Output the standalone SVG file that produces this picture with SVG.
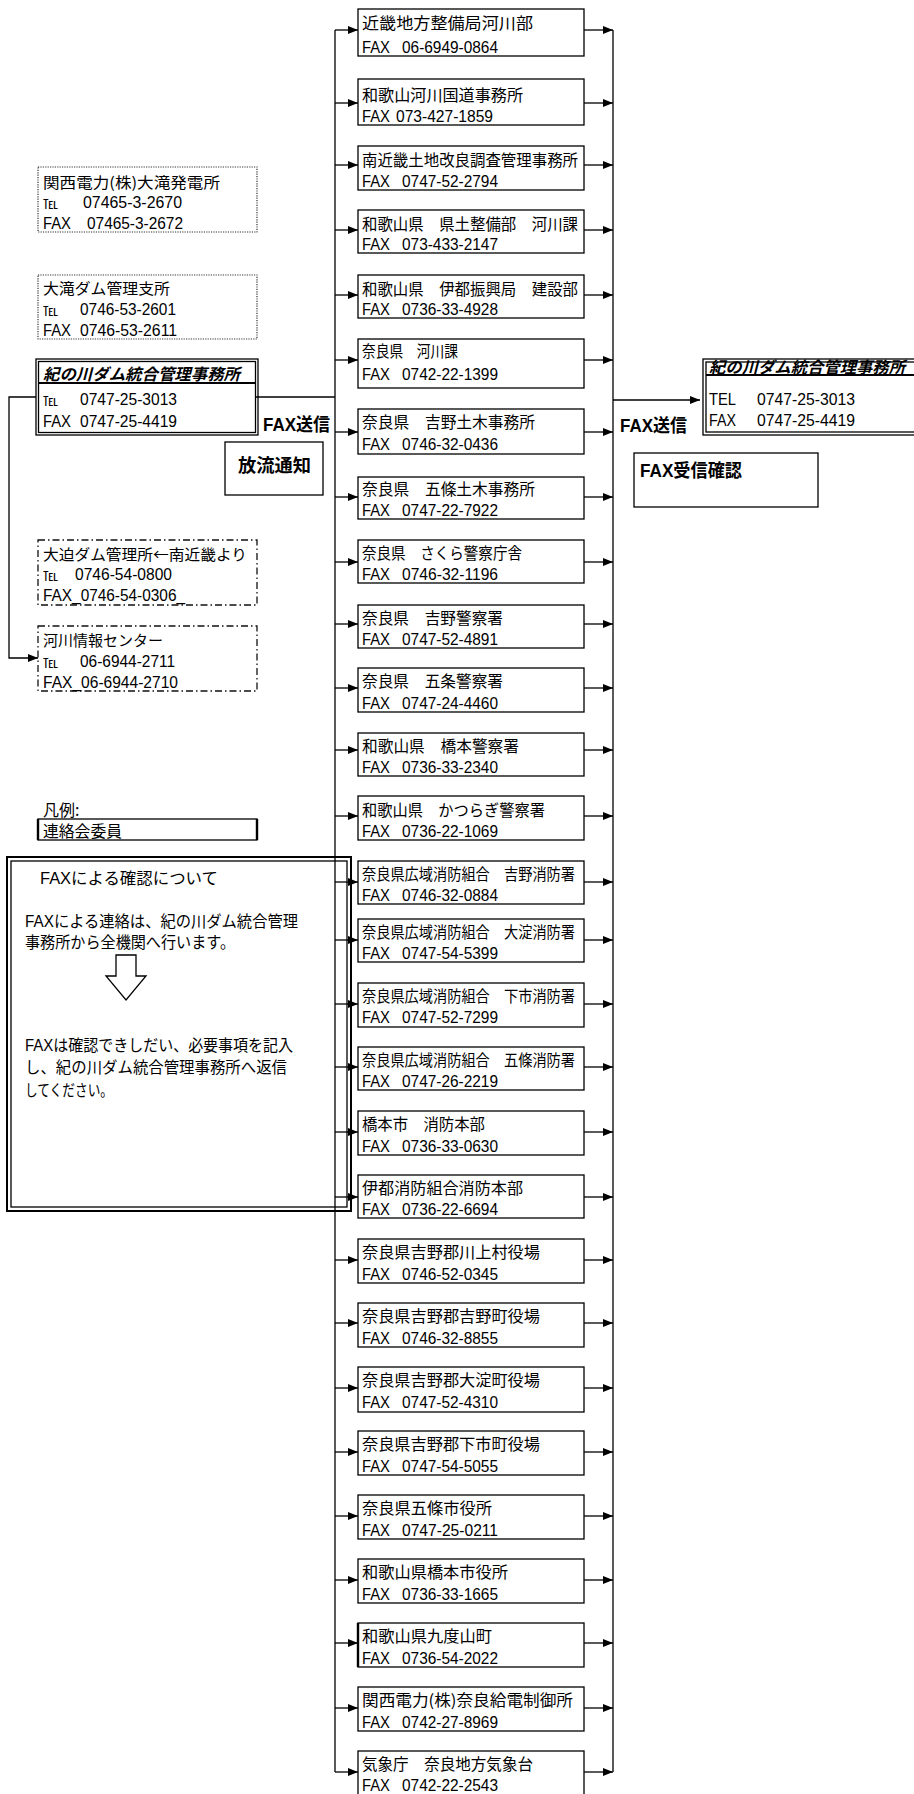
<svg xmlns="http://www.w3.org/2000/svg" width="914" height="1794" viewBox="0 0 914 1794">
<style>
.bx{fill:none;stroke:#000;stroke-width:1.3}
.dot{fill:none;stroke:#333;stroke-width:1.2;stroke-dasharray:1.2 1.2}
.dd{fill:none;stroke:#111;stroke-width:1.3;stroke-dasharray:7 3 1.5 3}
.ln{fill:none;stroke:#000;stroke-width:1.3}
text{font-family:"Liberation Sans","Noto Sans CJK JP",sans-serif;font-size:16px;fill:#000}
.j{font-family:"Noto Sans CJK JP",sans-serif}
.tel{font-family:"Noto Sans CJK JP",sans-serif;font-size:13px}
.nm{font-family:"Noto Sans CJK JP",sans-serif;font-size:15px}
.b{font-weight:bold;font-size:18px}
.h{font-family:"Noto Sans CJK JP",sans-serif;font-style:italic;font-weight:bold}
</style>
<defs>
<marker id="ah" viewBox="0 0 10 8" refX="10" refY="4" markerWidth="10" markerHeight="8" orient="auto" markerUnits="userSpaceOnUse"><path d="M0,0 L10,4 L0,8 z" fill="#000"/></marker>
</defs>
<rect width="914" height="1794" fill="#fff"/>

<g id="connectors">
<path class="ln" d="M335,30 V1772"/>
<path class="ln" d="M613,30 V1772"/>
<path class="ln" d="M256,397 H335"/>
<path class="ln" d="M36,397 H9 V658 H38" marker-end="url(#ah)"/>
<path class="ln" d="M613,400 H700" marker-end="url(#ah)"/>
<g marker-end="url(#ah)" class="ln">
<path d="M335,30 H358"/><path d="M335,103 H358"/><path d="M335,165 H358"/><path d="M335,230 H358"/>
<path d="M335,295 H358"/><path d="M335,360 H358"/><path d="M335,432 H358"/><path d="M335,497 H358"/>
<path d="M335,562 H358"/><path d="M335,624 H358"/><path d="M335,688 H358"/><path d="M335,750 H358"/>
<path d="M335,816 H358"/><path d="M335,882 H358"/><path d="M335,940 H358"/><path d="M335,1004 H358"/>
<path d="M335,1067 H358"/><path d="M335,1132 H358"/><path d="M335,1197 H358"/><path d="M335,1260 H358"/>
<path d="M335,1323 H358"/><path d="M335,1388 H358"/><path d="M335,1452 H358"/><path d="M335,1516 H358"/>
<path d="M335,1580 H358"/><path d="M335,1643 H358"/><path d="M335,1708 H358"/><path d="M335,1772 H358"/>
<path d="M584,30 H613"/><path d="M584,103 H613"/><path d="M584,165 H613"/><path d="M584,230 H613"/>
<path d="M584,295 H613"/><path d="M584,360 H613"/><path d="M584,432 H613"/><path d="M584,497 H613"/>
<path d="M584,562 H613"/><path d="M584,624 H613"/><path d="M584,688 H613"/><path d="M584,750 H613"/>
<path d="M584,816 H613"/><path d="M584,882 H613"/><path d="M584,940 H613"/><path d="M584,1004 H613"/>
<path d="M584,1067 H613"/><path d="M584,1132 H613"/><path d="M584,1197 H613"/><path d="M584,1260 H613"/>
<path d="M584,1323 H613"/><path d="M584,1388 H613"/><path d="M584,1452 H613"/><path d="M584,1516 H613"/>
<path d="M584,1580 H613"/><path d="M584,1643 H613"/><path d="M584,1708 H613"/><path d="M584,1772 H613"/>
</g>
</g>

<!-- left side -->
<g id="oodaki-hatsudensho">
<rect class="dot" x="38" y="167" width="219" height="65"/>
<text class="nm" x="43" y="188" textLength="177" lengthAdjust="spacingAndGlyphs">関西電力(株)大滝発電所</text>
<text class="tel" x="43" y="208" textLength="15" lengthAdjust="spacingAndGlyphs">℡</text>
<text x="83" y="208" textLength="99" lengthAdjust="spacingAndGlyphs">07465-3-2670</text>
<text x="43" y="229" textLength="28" lengthAdjust="spacingAndGlyphs">FAX</text>
<text x="87" y="229" textLength="96" lengthAdjust="spacingAndGlyphs">07465-3-2672</text>
</g>
<g id="oodaki-dam">
<rect class="dot" x="38" y="275" width="219" height="64"/>
<text class="nm" x="43" y="294" textLength="127" lengthAdjust="spacingAndGlyphs">大滝ダム管理支所</text>
<text class="tel" x="43" y="315" textLength="15" lengthAdjust="spacingAndGlyphs">℡</text>
<text x="80" y="315" textLength="96" lengthAdjust="spacingAndGlyphs">0746-53-2601</text>
<text x="43" y="336" textLength="28" lengthAdjust="spacingAndGlyphs">FAX</text>
<text x="80" y="336" textLength="97" lengthAdjust="spacingAndGlyphs">0746-53-2611</text>
</g>
<g id="kinokawa-left">
<rect class="bx" x="36" y="359" width="222" height="76"/>
<rect class="bx" x="38.5" y="361.5" width="217" height="71"/>
<path d="M38,383 H256" stroke="#000" stroke-width="2.2"/>
<text class="h" x="43" y="380" textLength="197" lengthAdjust="spacingAndGlyphs">紀の川ダム統合管理事務所</text>
<text class="tel" x="43" y="405" textLength="15" lengthAdjust="spacingAndGlyphs">℡</text>
<text x="80" y="405" textLength="97" lengthAdjust="spacingAndGlyphs">0747-25-3013</text>
<text x="43" y="427" textLength="28" lengthAdjust="spacingAndGlyphs">FAX</text>
<text x="80" y="427" textLength="97" lengthAdjust="spacingAndGlyphs">0747-25-4419</text>
</g>
<g id="label-fax-send-left">
<text class="b" x="263" y="431" textLength="67" lengthAdjust="spacingAndGlyphs">FAX送信</text>
</g>
<g id="houryuu-tsuuchi">
<rect class="bx" x="225" y="442" width="98" height="53"/>
<text class="b" x="238" y="472" textLength="73" lengthAdjust="spacingAndGlyphs">放流通知</text>
</g>
<g id="oosako-dam">
<rect class="dd" x="38" y="540" width="219" height="65"/>
<text class="nm" x="43" y="560" textLength="204" lengthAdjust="spacingAndGlyphs">大迫ダム管理所←南近畿より</text>
<text class="tel" x="43" y="580" textLength="15" lengthAdjust="spacingAndGlyphs">℡</text>
<text x="75" y="580" textLength="97" lengthAdjust="spacingAndGlyphs">0746-54-0800</text>
<text x="43" y="601" textLength="142" lengthAdjust="spacingAndGlyphs">FAX_0746-54-0306_</text>
</g>
<g id="kasen-jouhou">
<rect class="dd" x="38" y="626" width="219" height="65"/>
<text class="nm" x="43" y="646" textLength="120" lengthAdjust="spacingAndGlyphs">河川情報センター</text>
<text class="tel" x="43" y="667" textLength="15" lengthAdjust="spacingAndGlyphs">℡</text>
<text x="80" y="667" textLength="95" lengthAdjust="spacingAndGlyphs">06-6944-2711</text>
<text x="43" y="688" textLength="135" lengthAdjust="spacingAndGlyphs">FAX_06-6944-2710</text>
</g>
<g id="legend">
<text class="j" x="43" y="816">凡例:</text>
<rect class="bx" x="38" y="819" width="219" height="21"/>
<path d="M38,819 V840 M257,819 V840" stroke="#000" stroke-width="2.4"/>
<text class="j" x="43" y="837" textLength="79" lengthAdjust="spacingAndGlyphs">連絡会委員</text>
</g>
<g id="fax-note">
<rect x="7" y="857" width="344" height="354" fill="none" stroke="#000" stroke-width="2"/>
<rect class="bx" x="11" y="861" width="336" height="346"/>
<text x="40" y="884" font-size="17" textLength="178" lengthAdjust="spacingAndGlyphs">FAXによる確認について</text>
<text x="25" y="927" textLength="273" lengthAdjust="spacingAndGlyphs">FAXによる連絡は、紀の川ダム統合管理</text>
<text x="25" y="948" textLength="210" lengthAdjust="spacingAndGlyphs">事務所から全機関へ行います。</text>
<polygon points="116,955 136,955 136,976 146,976 126,1000 106,976 116,976" fill="#fff" stroke="#000" stroke-width="1.3"/>
<text x="25" y="1051" textLength="268" lengthAdjust="spacingAndGlyphs">FAXは確認できしだい、必要事項を記入</text>
<text x="25" y="1073" textLength="262" lengthAdjust="spacingAndGlyphs">し、紀の川ダム統合管理事務所へ返信</text>
<text x="25" y="1096" textLength="88" lengthAdjust="spacingAndGlyphs">してください。</text>
</g>

<!-- right side -->
<g id="label-fax-send-right">
<text class="b" x="620" y="432" textLength="67" lengthAdjust="spacingAndGlyphs">FAX送信</text>
</g>
<g id="kinokawa-right">
<rect class="bx" x="703" y="359" width="230" height="76"/>
<rect class="bx" x="706" y="362" width="230" height="70"/>
<path d="M706,375 H914" stroke="#000" stroke-width="2.2"/>
<text class="h" x="709" y="373" font-size="14" textLength="196" lengthAdjust="spacingAndGlyphs">紀の川ダム統合管理事務所</text>
<text x="709" y="405" textLength="27" lengthAdjust="spacingAndGlyphs">TEL</text>
<text x="757" y="405" textLength="98" lengthAdjust="spacingAndGlyphs">0747-25-3013</text>
<text x="709" y="426" textLength="27" lengthAdjust="spacingAndGlyphs">FAX</text>
<text x="757" y="426" textLength="98" lengthAdjust="spacingAndGlyphs">0747-25-4419</text>
</g>
<g id="fax-confirm">
<rect class="bx" x="634" y="453" width="184" height="54"/>
<text class="b" x="640" y="477" textLength="102" lengthAdjust="spacingAndGlyphs">FAX受信確認</text>
</g>

<!-- recipient boxes -->
<g id="r01"><rect class="bx" x="358" y="9" width="226" height="47"/>
<text class="j" x="362" y="29" font-size="17" textLength="171" lengthAdjust="spacingAndGlyphs">近畿地方整備局河川部</text>
<text x="362" y="53" textLength="28" lengthAdjust="spacingAndGlyphs">FAX</text><text x="402" y="53" textLength="96" lengthAdjust="spacingAndGlyphs">06-6949-0864</text></g>
<g id="r02"><rect class="bx" x="358" y="79" width="226" height="46"/>
<text class="j" x="362" y="101" textLength="161" lengthAdjust="spacingAndGlyphs">和歌山河川国道事務所</text>
<text x="362" y="122" textLength="28" lengthAdjust="spacingAndGlyphs">FAX</text><text x="396" y="122" textLength="97" lengthAdjust="spacingAndGlyphs">073-427-1859</text></g>
<g id="r03"><rect class="bx" x="358" y="146" width="226" height="44"/>
<text class="j" x="362" y="166" textLength="216" lengthAdjust="spacingAndGlyphs">南近畿土地改良調査管理事務所</text>
<text x="362" y="187" textLength="28" lengthAdjust="spacingAndGlyphs">FAX</text><text x="402" y="187" textLength="96" lengthAdjust="spacingAndGlyphs">0747-52-2794</text></g>
<g id="r04"><rect class="bx" x="358" y="210" width="226" height="43"/>
<text class="j" x="362" y="230" textLength="216" lengthAdjust="spacingAndGlyphs">和歌山県　県土整備部　河川課</text>
<text x="362" y="250" textLength="28" lengthAdjust="spacingAndGlyphs">FAX</text><text x="402" y="250" textLength="96" lengthAdjust="spacingAndGlyphs">073-433-2147</text></g>
<g id="r05"><rect class="bx" x="358" y="275" width="226" height="43"/>
<text class="j" x="362" y="295" textLength="216" lengthAdjust="spacingAndGlyphs">和歌山県　伊都振興局　建設部</text>
<text x="362" y="315" textLength="28" lengthAdjust="spacingAndGlyphs">FAX</text><text x="402" y="315" textLength="96" lengthAdjust="spacingAndGlyphs">0736-33-4928</text></g>
<g id="r06"><rect class="bx" x="358" y="339" width="226" height="49"/>
<text class="j" x="362" y="357" font-size="14" textLength="96" lengthAdjust="spacingAndGlyphs">奈良県　河川課</text>
<text x="362" y="380" textLength="28" lengthAdjust="spacingAndGlyphs">FAX</text><text x="402" y="380" textLength="96" lengthAdjust="spacingAndGlyphs">0742-22-1399</text></g>
<g id="r07"><rect class="bx" x="358" y="409" width="226" height="45"/>
<text class="j" x="362" y="428" textLength="173" lengthAdjust="spacingAndGlyphs">奈良県　吉野土木事務所</text>
<text x="362" y="450" textLength="28" lengthAdjust="spacingAndGlyphs">FAX</text><text x="402" y="450" textLength="96" lengthAdjust="spacingAndGlyphs">0746-32-0436</text></g>
<g id="r08"><rect class="bx" x="358" y="477" width="226" height="42"/>
<text class="j" x="362" y="495" textLength="173" lengthAdjust="spacingAndGlyphs">奈良県　五條土木事務所</text>
<text x="362" y="516" textLength="28" lengthAdjust="spacingAndGlyphs">FAX</text><text x="402" y="516" textLength="96" lengthAdjust="spacingAndGlyphs">0747-22-7922</text></g>
<g id="r09"><rect class="bx" x="358" y="540" width="226" height="43"/>
<text class="j" x="362" y="559" textLength="160" lengthAdjust="spacingAndGlyphs">奈良県　さくら警察庁舎</text>
<text x="362" y="580" textLength="28" lengthAdjust="spacingAndGlyphs">FAX</text><text x="402" y="580" textLength="96" lengthAdjust="spacingAndGlyphs">0746-32-1196</text></g>
<g id="r10"><rect class="bx" x="358" y="605" width="226" height="43"/>
<text class="j" x="362" y="624" textLength="141" lengthAdjust="spacingAndGlyphs">奈良県　吉野警察署</text>
<text x="362" y="645" textLength="28" lengthAdjust="spacingAndGlyphs">FAX</text><text x="402" y="645" textLength="96" lengthAdjust="spacingAndGlyphs">0747-52-4891</text></g>
<g id="r11"><rect class="bx" x="358" y="668" width="226" height="44"/>
<text class="j" x="362" y="687" textLength="141" lengthAdjust="spacingAndGlyphs">奈良県　五条警察署</text>
<text x="362" y="709" textLength="28" lengthAdjust="spacingAndGlyphs">FAX</text><text x="402" y="709" textLength="96" lengthAdjust="spacingAndGlyphs">0747-24-4460</text></g>
<g id="r12"><rect class="bx" x="358" y="733" width="226" height="43"/>
<text class="j" x="362" y="752" textLength="157" lengthAdjust="spacingAndGlyphs">和歌山県　橋本警察署</text>
<text x="362" y="773" textLength="28" lengthAdjust="spacingAndGlyphs">FAX</text><text x="402" y="773" textLength="96" lengthAdjust="spacingAndGlyphs">0736-33-2340</text></g>
<g id="r13"><rect class="bx" x="358" y="796" width="226" height="44"/>
<text class="j" x="362" y="816" textLength="183" lengthAdjust="spacingAndGlyphs">和歌山県　かつらぎ警察署</text>
<text x="362" y="837" textLength="28" lengthAdjust="spacingAndGlyphs">FAX</text><text x="402" y="837" textLength="96" lengthAdjust="spacingAndGlyphs">0736-22-1069</text></g>
<g id="r14"><rect class="bx" x="358" y="861" width="226" height="43"/>
<text class="j" x="362" y="880" font-size="15" textLength="213" lengthAdjust="spacingAndGlyphs">奈良県広域消防組合　吉野消防署</text>
<text x="362" y="901" textLength="28" lengthAdjust="spacingAndGlyphs">FAX</text><text x="402" y="901" textLength="96" lengthAdjust="spacingAndGlyphs">0746-32-0884</text></g>
<g id="r15"><rect class="bx" x="358" y="919" width="226" height="43"/>
<text class="j" x="362" y="938" font-size="15" textLength="213" lengthAdjust="spacingAndGlyphs">奈良県広域消防組合　大淀消防署</text>
<text x="362" y="959" textLength="28" lengthAdjust="spacingAndGlyphs">FAX</text><text x="402" y="959" textLength="96" lengthAdjust="spacingAndGlyphs">0747-54-5399</text></g>
<g id="r16"><rect class="bx" x="358" y="983" width="226" height="44"/>
<text class="j" x="362" y="1002" font-size="15" textLength="213" lengthAdjust="spacingAndGlyphs">奈良県広域消防組合　下市消防署</text>
<text x="362" y="1023" textLength="28" lengthAdjust="spacingAndGlyphs">FAX</text><text x="402" y="1023" textLength="96" lengthAdjust="spacingAndGlyphs">0747-52-7299</text></g>
<g id="r17"><rect class="bx" x="358" y="1047" width="226" height="43"/>
<text class="j" x="362" y="1066" font-size="15" textLength="213" lengthAdjust="spacingAndGlyphs">奈良県広域消防組合　五條消防署</text>
<text x="362" y="1087" textLength="28" lengthAdjust="spacingAndGlyphs">FAX</text><text x="402" y="1087" textLength="96" lengthAdjust="spacingAndGlyphs">0747-26-2219</text></g>
<g id="r18"><rect class="bx" x="358" y="1111" width="226" height="44"/>
<text class="j" x="362" y="1130" textLength="123" lengthAdjust="spacingAndGlyphs">橋本市　消防本部</text>
<text x="362" y="1152" textLength="28" lengthAdjust="spacingAndGlyphs">FAX</text><text x="402" y="1152" textLength="96" lengthAdjust="spacingAndGlyphs">0736-33-0630</text></g>
<g id="r19"><rect class="bx" x="358" y="1175" width="226" height="43"/>
<text class="j" x="362" y="1194" textLength="161" lengthAdjust="spacingAndGlyphs">伊都消防組合消防本部</text>
<text x="362" y="1215" textLength="28" lengthAdjust="spacingAndGlyphs">FAX</text><text x="402" y="1215" textLength="96" lengthAdjust="spacingAndGlyphs">0736-22-6694</text></g>
<g id="r20"><rect class="bx" x="358" y="1239" width="226" height="44"/>
<text class="j" x="362" y="1258" textLength="178" lengthAdjust="spacingAndGlyphs">奈良県吉野郡川上村役場</text>
<text x="362" y="1280" textLength="28" lengthAdjust="spacingAndGlyphs">FAX</text><text x="402" y="1280" textLength="96" lengthAdjust="spacingAndGlyphs">0746-52-0345</text></g>
<g id="r21"><rect class="bx" x="358" y="1303" width="226" height="44"/>
<text class="j" x="362" y="1322" textLength="178" lengthAdjust="spacingAndGlyphs">奈良県吉野郡吉野町役場</text>
<text x="362" y="1344" textLength="28" lengthAdjust="spacingAndGlyphs">FAX</text><text x="402" y="1344" textLength="96" lengthAdjust="spacingAndGlyphs">0746-32-8855</text></g>
<g id="r22"><rect class="bx" x="358" y="1367" width="226" height="45"/>
<text class="j" x="362" y="1386" textLength="178" lengthAdjust="spacingAndGlyphs">奈良県吉野郡大淀町役場</text>
<text x="362" y="1408" textLength="28" lengthAdjust="spacingAndGlyphs">FAX</text><text x="402" y="1408" textLength="96" lengthAdjust="spacingAndGlyphs">0747-52-4310</text></g>
<g id="r23"><rect class="bx" x="358" y="1431" width="226" height="44"/>
<text class="j" x="362" y="1450" textLength="178" lengthAdjust="spacingAndGlyphs">奈良県吉野郡下市町役場</text>
<text x="362" y="1472" textLength="28" lengthAdjust="spacingAndGlyphs">FAX</text><text x="402" y="1472" textLength="96" lengthAdjust="spacingAndGlyphs">0747-54-5055</text></g>
<g id="r24"><rect class="bx" x="358" y="1495" width="226" height="44"/>
<text class="j" x="362" y="1514" textLength="130" lengthAdjust="spacingAndGlyphs">奈良県五條市役所</text>
<text x="362" y="1536" textLength="28" lengthAdjust="spacingAndGlyphs">FAX</text><text x="402" y="1536" textLength="96" lengthAdjust="spacingAndGlyphs">0747-25-0211</text></g>
<g id="r25"><rect class="bx" x="358" y="1559" width="226" height="44"/>
<text class="j" x="362" y="1578" textLength="146" lengthAdjust="spacingAndGlyphs">和歌山県橋本市役所</text>
<text x="362" y="1600" textLength="28" lengthAdjust="spacingAndGlyphs">FAX</text><text x="402" y="1600" textLength="96" lengthAdjust="spacingAndGlyphs">0736-33-1665</text></g>
<g id="r26"><rect class="bx" x="358" y="1623" width="226" height="44"/>
<path d="M358,1623 V1667" stroke="#000" stroke-width="2.4"/>
<text class="j" x="362" y="1642" textLength="130" lengthAdjust="spacingAndGlyphs">和歌山県九度山町</text>
<text x="362" y="1664" textLength="28" lengthAdjust="spacingAndGlyphs">FAX</text><text x="402" y="1664" textLength="96" lengthAdjust="spacingAndGlyphs">0736-54-2022</text></g>
<g id="r27"><rect class="bx" x="358" y="1687" width="226" height="44"/>
<text class="j" x="362" y="1706" font-size="15" textLength="211" lengthAdjust="spacingAndGlyphs">関西電力(株)奈良給電制御所</text>
<text x="362" y="1728" textLength="28" lengthAdjust="spacingAndGlyphs">FAX</text><text x="402" y="1728" textLength="96" lengthAdjust="spacingAndGlyphs">0742-27-8969</text></g>
<g id="r28"><rect class="bx" x="358" y="1751" width="226" height="44"/>
<text class="j" x="362" y="1770" textLength="171" lengthAdjust="spacingAndGlyphs">気象庁　奈良地方気象台</text>
<text x="362" y="1791" textLength="28" lengthAdjust="spacingAndGlyphs">FAX</text><text x="402" y="1791" textLength="96" lengthAdjust="spacingAndGlyphs">0742-22-2543</text></g>
</svg>
